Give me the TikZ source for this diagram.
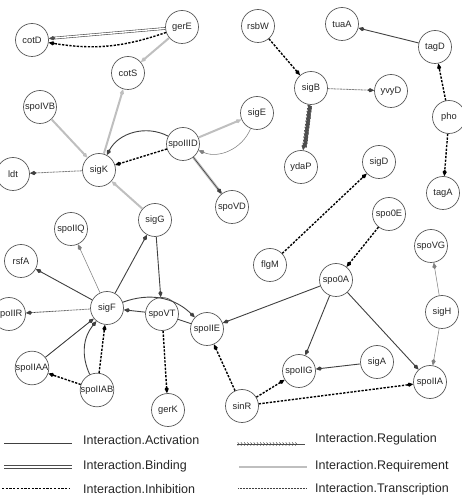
\documentclass[tikz,border=0pt]{standalone}
\usepackage{fontspec}
\setmainfont{Liberation Sans}
\usetikzlibrary{arrows.meta,decorations.markings}
\begin{document}
\begin{tikzpicture}[x=1pt,y=1pt,
  gene/.style={circle,draw=black!65,line width=0.7pt,fill=white,minimum size=33pt,inner sep=0pt,font=\fontsize{9.3}{10}\selectfont,text=black!85},
  arr/.style={-{Kite[length=6.5pt,width=4.2pt,inset=2.2pt]}},
  activ/.style={draw=black!75,line width=0.9pt},
  bind/.style={draw=black!70,line width=0.6pt,double=white,double distance=1.4pt},
  inhib/.style={draw=black,line width=1.4pt,dash pattern=on 2.3pt off 1.4pt},
  requ/.style={draw=black!25,line width=2pt},
  transc/.style={draw=black!75,line width=0.8pt,dash pattern=on 0.8pt off 0.7pt},
  thing/.style={draw=black!50,line width=0.55pt},
  regul/.style={draw=black!70,line width=0.5pt,postaction={decorate,decoration={markings,mark=between positions 0.03 and 0.9 step 3.2pt with {\draw[black!70,line width=0.5pt] (-1.3pt,1.6pt)--(0,0)--(-1.3pt,-1.6pt);}}}},
  legtext/.style={anchor=west,font=\fontsize{12.5}{14}\selectfont,text=black!85,inner sep=0pt}
]
\useasboundingbox (0,0) rectangle (461,495);
% nodes
\node[gene] (cotD) at (32,455) {cotD};
\node[gene] (gerE) at (182,468) {gerE};
\node[gene] (cotS) at (128,422) {cotS};
\node[gene] (spoIVB) at (40,388) {spoIVB};
\node[gene] (sigK) at (99,325) {sigK};
\node[gene] (ldt) at (13,321) {ldt};
\node[gene] (spoIIID) at (183,351) {spoIIID};
\node[gene] (rsbW) at (258,469) {rsbW};
\node[gene] (tuaA) at (342,471) {tuaA};
\node[gene] (tagD) at (435,448) {tagD};
\node[gene] (sigB) at (311,407) {sigB};
\node[gene] (yvyD) at (391,404) {yvyD};
\node[gene] (sigE) at (257,382) {sigE};
\node[gene] (pho) at (449,378) {pho};
\node[gene] (ydaP) at (301,328) {ydaP};
\node[gene] (sigD) at (379,333) {sigD};
\node[gene] (tagA) at (443,302) {tagA};
\node[gene] (spoVD) at (232,288) {spoVD};
\node[gene] (sigG) at (155,275) {sigG};
\node[gene] (spoIIQ) at (71,266) {spoIIQ};
\node[gene] (rsfA) at (21,234) {rsfA};
\node[gene] (spoIIR) at (9,181) {spoIIR};
\node[gene] (sigF) at (107,187) {sigF};
\node[gene] (spoVT) at (162,181) {spoVT};
\node[gene] (spoIIE) at (207,166) {spoIIE};
\node[gene] (spoIIAA) at (32,127) {spoIIAA};
\node[gene] (spoIIAB) at (97,105) {spoIIAB};
\node[gene] (gerK) at (168,85) {gerK};
\node[gene] (spo0E) at (389,281) {spo0E};
\node[gene] (spoVG) at (431,249) {spoVG};
\node[gene] (flgM) at (270,230) {flgM};
\node[gene] (spo0A) at (336,215) {spo0A};
\node[gene] (sigH) at (442,183) {sigH};
\node[gene] (sigA) at (377,133) {sigA};
\node[gene] (spoIIG) at (299,124) {spoIIG};
\node[gene] (spoIIA) at (430,113) {spoIIA};
\node[gene] (sinR) at (242,89) {sinR};
% edges
\draw[bind,arr] (gerE) -- (cotD);
\draw[inhib,arr] (gerE) to[bend left=14] (cotD);
\draw[requ,arr] (gerE) -- (cotS);
\draw[requ,arr] (sigK) -- (cotS);
\draw[requ,arr] (spoIVB) -- (sigK);
\draw[transc,arr] (sigK) -- (ldt);
\draw[activ,arr] (spoIIID) to[bend right=45] (sigK);
\draw[inhib,arr] (spoIIID) -- (sigK);
\draw[requ,arr] (spoIIID) -- (sigE);
\draw[thing,arr] (sigE) to[bend left=45] (spoIIID);
\draw[requ,line width=2.6pt] (spoIIID) -- (spoVD);
\draw[activ,line width=0.6pt,arr] (spoIIID) -- (spoVD);
\draw[requ,arr] (sigG) -- (sigK);
\draw[inhib,arr] (rsbW) -- (sigB);
\draw[transc,arr] (sigB) -- (yvyD);
\draw[regul,arr] (sigB) -- (ydaP);
\draw[activ,arr] (tagD) -- (tuaA);
\draw[inhib,arr] (pho) -- (tagD);
\draw[inhib,arr] (pho) -- (tagA);
\draw[inhib,arr] (flgM) -- (sigD);
\draw[inhib,arr] (spo0E) -- (spo0A);
\draw[thing,arr] (sigH) -- (spoVG);
\draw[thing,arr] (sigH) -- (spoIIA);
\draw[activ,arr] (spo0A) -- (spoIIE);
\draw[activ,arr] (spo0A) -- (spoIIG);
\draw[activ,arr] (spo0A) -- (spoIIA);
\draw[activ,arr] (sigA) -- (spoIIG);
\draw[inhib,arr] (sinR) -- (spoIIG);
\draw[inhib,arr] (sinR) -- (spoIIA);
\draw[inhib,arr] (sinR) -- (spoIIE);
\draw[activ,arr] (sigG) -- (spoVT);
\draw[activ,arr] (sigF) -- (sigG);
\draw[thing,arr] (sigF) -- (spoIIQ);
\draw[activ,arr] (sigF) -- (rsfA);
\draw[transc,arr] (sigF) -- (spoIIR);
\draw[activ,arr] (spoVT) -- (sigF);
\draw[activ,arr] (sigF) to[bend left=32] (spoIIE);
\draw[activ] (spoVT) -- (spoIIE);
\draw[activ,arr] (spoIIAA) -- (sigF);
\draw[activ,arr] (spoIIAB) to[bend left=32] (sigF);
\draw[inhib,arr] (spoIIAB) -- (sigF);
\draw[inhib,arr] (spoIIAB) -- (spoIIAA);
\draw[inhib,arr] (spoVT) -- (gerK);
% legend
\coordinate (la1) at (4,51); \coordinate (lb1) at (72,51);
\coordinate (la2) at (4,29.2); \coordinate (lb2) at (72,29.2);
\coordinate (lc2) at (4,26.8); \coordinate (ld2) at (72,26.8);
\coordinate (la3) at (2,7);  \coordinate (lb3) at (70,7);
\coordinate (ra1) at (237,51); \coordinate (rb1) at (305,51);
\coordinate (ra2) at (239,28); \coordinate (rb2) at (307,28);
\coordinate (ra3) at (238,7);  \coordinate (rb3) at (306,7);
\draw[activ,line width=1pt] (la1) -- (lb1);
\draw[draw=black!70,line width=0.7pt] (la2) -- (lb2);
\draw[draw=black!70,line width=0.7pt] (lc2) -- (ld2);
\draw[inhib,line width=0.9pt] (la3) -- (lb3);
\draw[regul] (ra1) -- (rb1);
\draw[requ,line width=2.4pt] (ra2) -- (rb2);
\draw[transc] (ra3) -- (rb3);
\node[legtext] (t1) at (83,55) {Interaction.Activation};
\node[legtext] (t2) at (83,29) {Interaction.Binding};
\node[legtext] (t3) at (83,6) {Interaction.Inhibition};
\node[legtext] (t4) at (315,56) {Interaction.Regulation};
\node[legtext] (t5) at (315,29) {Interaction.Requirement};
\node[legtext] (t6) at (315,6) {Interaction.Transcription};
\end{tikzpicture}
\end{document}
